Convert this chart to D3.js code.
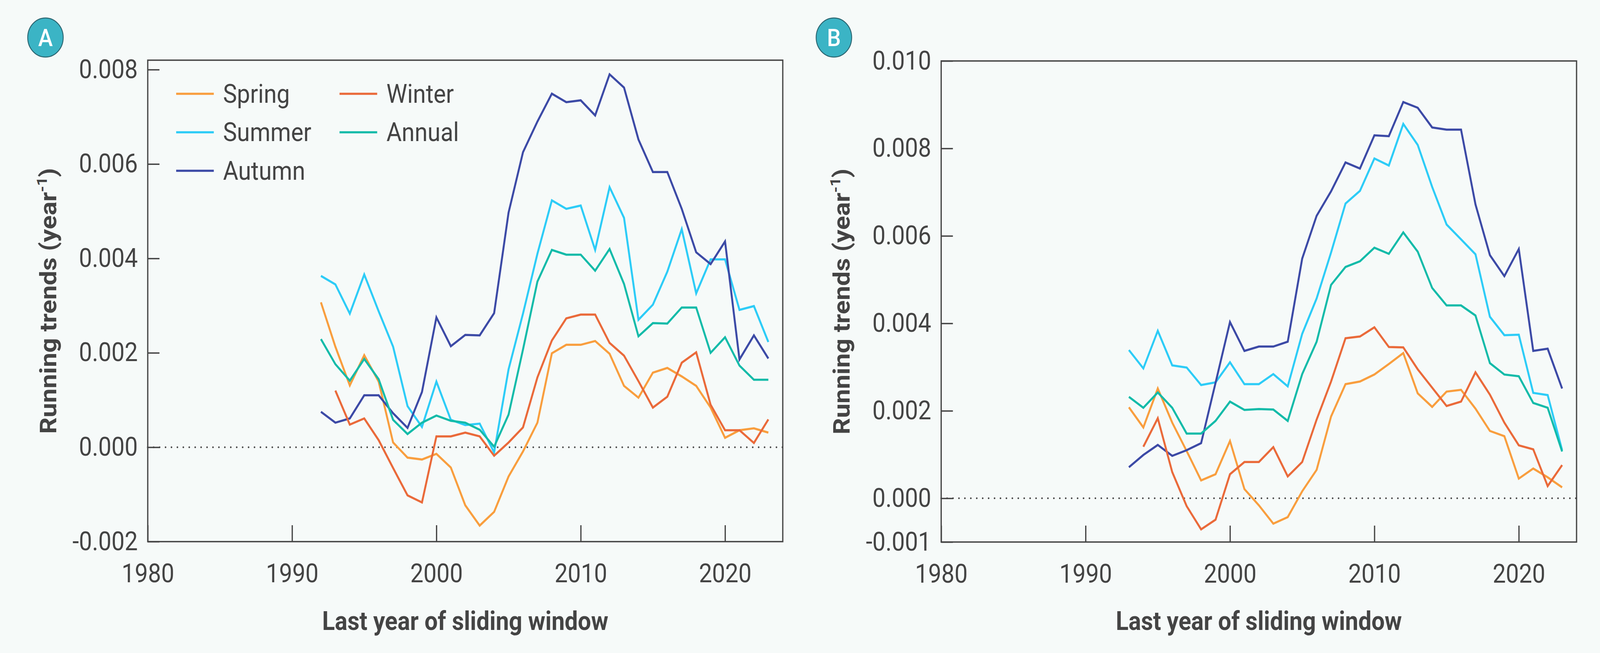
<!DOCTYPE html>
<html>
<head>
<meta charset="utf-8">
<script src="https://cdnjs.cloudflare.com/ajax/libs/d3/7.8.5/d3.min.js"></script>
<style>
  html, body { margin: 0; padding: 0; overflow: hidden; background: #f6faf9; }
  #chart { display: block; width: 100vw; height: 100vh; }
  text { font-family: Roboto, "Noto Sans", sans-serif; fill: #444; }
</style>
</head>
<body>
<svg id="chart" viewBox="0 0 4505 1671" preserveAspectRatio="none"></svg>
<script>
// ---- data ----
const yearsA = [1992, 1993, 1994, 1995, 1996, 1997, 1998, 1999, 2000, 2001, 2002, 2003, 2004, 2005, 2006, 2007,
                2008, 2009, 2010, 2011, 2012, 2013, 2014, 2015, 2016, 2017, 2018, 2019, 2020, 2021, 2022, 2023];
const yearsB = [1993, 1994, 1995, 1996, 1997, 1998, 1999, 2000, 2001, 2002, 2003, 2004, 2005, 2006, 2007,
                2008, 2009, 2010, 2011, 2012, 2013, 2014, 2015, 2016, 2017, 2018, 2019, 2020, 2021, 2022, 2023];

// Panel A (winter starts one year later)
const springA = [0.00307, 0.00213, 0.00131, 0.00195, 0.00139, 0.00010, -0.00022, -0.00026, -0.00014, -0.00043, -0.00123,
                 -0.00166, -0.00137, -0.00062, -0.00009, 0.00052, 0.00199, 0.00217, 0.00217, 0.00225, 0.00198, 0.00130,
                 0.00105, 0.00158, 0.00168, 0.00150, 0.00130, 0.00084, 0.00020, 0.00036, 0.00040, 0.00031];
const summerA = [0.00363, 0.00345, 0.00283, 0.00366, 0.00288, 0.00213, 0.00087, 0.00043, 0.00139, 0.00058, 0.00047,
                 0.00050, -0.00011, 0.00165, 0.00283, 0.00410, 0.00523, 0.00505, 0.00512, 0.00418, 0.00551, 0.00486,
                 0.00270, 0.00302, 0.00372, 0.00462, 0.00326, 0.00398, 0.00398, 0.00291, 0.00299, 0.00223];
const autumnA = [0.00075, 0.00052, 0.00061, 0.00110, 0.00110, 0.00072, 0.00041, 0.00117, 0.00275, 0.00214, 0.00238,
                 0.00237, 0.00284, 0.00497, 0.00625, 0.00690, 0.00749, 0.00731, 0.00735, 0.00703, 0.00790, 0.00762,
                 0.00652, 0.00583, 0.00583, 0.00505, 0.00413, 0.00388, 0.00436, 0.00186, 0.00237, 0.00188];
const winterA = [0.00120, 0.00048, 0.00061, 0.00015, -0.00044, -0.00102, -0.00117, 0.00023, 0.00023, 0.00031,
                 0.00023, -0.00018, 0.00010, 0.00042, 0.00148, 0.00226, 0.00273, 0.00281, 0.00281, 0.00221, 0.00194,
                 0.00140, 0.00084, 0.00107, 0.00179, 0.00201, 0.00090, 0.00036, 0.00036, 0.00009, 0.00059];
const annualA = [0.00229, 0.00176, 0.00141, 0.00187, 0.00144, 0.00058, 0.00028, 0.00052, 0.00067, 0.00056, 0.00052,
                 0.00037, 0.00001, 0.00069, 0.00207, 0.00351, 0.00418, 0.00408, 0.00408, 0.00374, 0.00420, 0.00346,
                 0.00235, 0.00263, 0.00262, 0.00296, 0.00296, 0.00200, 0.00233, 0.00173, 0.00143, 0.00143];

// Panel B (winter starts one year later)
const springB = [0.00208, 0.00162, 0.00251, 0.00173, 0.00108, 0.00041, 0.00055, 0.00131, 0.00021, -0.00016, -0.00058,
                 -0.00043, 0.00016, 0.00065, 0.00187, 0.00261, 0.00267, 0.00283, 0.00307, 0.00332, 0.00240, 0.00209,
                 0.00244, 0.00248, 0.00205, 0.00154, 0.00142, 0.00045, 0.00068, 0.00048, 0.00025];
const summerB = [0.00339, 0.00297, 0.00383, 0.00304, 0.00299, 0.00259, 0.00265, 0.00311, 0.00261, 0.00261, 0.00284,
                 0.00256, 0.00376, 0.00457, 0.00562, 0.00674, 0.00703, 0.00777, 0.00761, 0.00856, 0.00808, 0.00712,
                 0.00626, 0.00592, 0.00558, 0.00415, 0.00373, 0.00374, 0.00241, 0.00236, 0.00110];
const autumnB = [0.00071, 0.00099, 0.00122, 0.00097, 0.00110, 0.00126, 0.00264, 0.00403, 0.00337, 0.00347, 0.00347,
                 0.00358, 0.00548, 0.00646, 0.00702, 0.00768, 0.00754, 0.00830, 0.00828, 0.00906, 0.00893, 0.00848,
                 0.00843, 0.00843, 0.00672, 0.00556, 0.00508, 0.00570, 0.00337, 0.00342, 0.00251];
const winterB = [0.00118, 0.00183, 0.00060, -0.00018, -0.00071, -0.00049, 0.00055, 0.00083, 0.00083, 0.00117,
                 0.00050, 0.00083, 0.00180, 0.00267, 0.00366, 0.00370, 0.00391, 0.00346, 0.00345, 0.00295, 0.00253,
                 0.00211, 0.00221, 0.00288, 0.00237, 0.00173, 0.00121, 0.00112, 0.00028, 0.00076];
const annualB = [0.00232, 0.00207, 0.00242, 0.00207, 0.00148, 0.00148, 0.00177, 0.00221, 0.00202, 0.00204, 0.00203,
                 0.00177, 0.00284, 0.00358, 0.00488, 0.00529, 0.00542, 0.00573, 0.00559, 0.00608, 0.00564, 0.00481,
                 0.00441, 0.00441, 0.00418, 0.00309, 0.00283, 0.00279, 0.00218, 0.00207, 0.00107];

// Axis ticks
const xTicks = [1980, 1990, 2000, 2010, 2020];
const yTicksA = [-0.002, 0, 0.002, 0.004, 0.006, 0.008];
const yLabelsA = ["-0.002", "0.000", "0.002", "0.004", "0.006", "0.008"];
const yTicksB = [-0.001, 0, 0.002, 0.004, 0.006, 0.008, 0.010];
const yLabelsB = ["-0.001", "0.000", "0.002", "0.004", "0.006", "0.008", "0.010"];

const colors = {
    Spring: "#f99e3e",
    Summer: "#2dccf7",
    Autumn: "#3c4aa6",
    Winter: "#ea6a3a",
    Annual: "#13bba9"
};

// ---- drawing ----
const svg = d3.select("#chart");
const fontSize = 66;
const ink = "#444";

function drawPanel(opts) {
    const { left, right, top, bottom, yDomain, yTicks, yLabels, series, badge, legend } = opts;

    const x = d3.scaleLinear().domain([1980, 2024]).range([left, right]);
    const y = d3.scaleLinear().domain(yDomain).range([bottom, top]);

    const g = svg.append("g");

    // Zero reference line (dotted)
    g.append("line")
        .attr("x1", left).attr("x2", right)
        .attr("y1", y(0)).attr("y2", y(0))
        .attr("stroke", ink)
        .attr("stroke-width", 4.5)
        .attr("stroke-linecap", "round")
        .attr("stroke-dasharray", "0 16.7");

    // X axis, ticks pointing inward
    const xAxis = g.append("g")
        .attr("transform", `translate(0,${bottom})`)
        .call(d3.axisBottom(x).tickValues(xTicks).tickFormat(d3.format("d"))
            .tickSize(-42).tickSizeOuter(0).tickPadding(57));
    xAxis.select(".domain").remove();
    xAxis.selectAll("line").attr("stroke", ink).attr("stroke-width", 3.5);
    xAxis.selectAll("text").attr("font-size", fontSize).attr("fill", ink)
        .style("font-family", "Roboto, sans-serif");

    // Y axis, ticks pointing inward
    const yAxis = g.append("g")
        .attr("transform", `translate(${left},0)`)
        .call(d3.axisLeft(y).tickValues(yTicks).tickFormat((d, i) => yLabels[i])
            .tickSize(-33).tickSizeOuter(0).tickPadding(28));
    yAxis.select(".domain").remove();
    yAxis.selectAll("line").attr("stroke", ink).attr("stroke-width", 3.5);
    yAxis.selectAll("text").attr("font-size", fontSize).attr("fill", ink)
        .style("font-family", "Roboto, sans-serif");

    // Lines
    const line = d3.line()
        .x(d => x(d.year))
        .y(d => y(d.value));

    series.forEach(s => {
        const pts = s.values.map((v, i) => ({ year: s.years[i], value: v }));
        g.append("path")
            .datum(pts)
            .attr("fill", "none")
            .attr("stroke", colors[s.name])
            .attr("stroke-width", 5.5)
            .attr("d", line);
    });

    // Frame
    g.append("rect")
        .attr("x", left).attr("y", top)
        .attr("width", right - left).attr("height", bottom - top)
        .attr("fill", "none")
        .attr("stroke", ink)
        .attr("stroke-width", 3.5);

    // Axis titles
    g.append("text")
        .attr("x", (left + right) / 2)
        .attr("y", 1612)
        .attr("text-anchor", "middle")
        .attr("font-size", fontSize)
        .attr("font-weight", 700)
        .text("Last year of sliding window");

    const yt = g.append("text")
        .attr("transform", `translate(${left - 258},${(top + bottom) / 2}) rotate(-90)`)
        .attr("text-anchor", "middle")
        .attr("font-size", fontSize)
        .attr("font-weight", 700);
    yt.append("tspan").text("Running trends (year");
    yt.append("tspan").attr("font-size", 40).attr("dy", -26).text("-1");
    yt.append("tspan").attr("dy", 26).text(")");

    // Panel badge
    g.append("circle")
        .attr("cx", badge.x).attr("cy", badge.y).attr("r", 50)
        .attr("fill", "#3bb4c5")
        .attr("stroke", "#2b6570")
        .attr("stroke-width", 2.5);
    g.append("text")
        .attr("x", badge.x).attr("y", badge.y + 22)
        .attr("text-anchor", "middle")
        .attr("font-size", 62)
        .attr("font-weight", 500)
        .style("fill", "#fff")
        .text(badge.label);

    // Legend
    if (legend) {
        const lg = g.append("g").attr("transform", `translate(${left},${top})`);
        legend.forEach(item => {
            const cx = item.col === 0 ? 80 : 540;
            const cy = 86 + item.row * 98.5;
            lg.append("line")
                .attr("x1", cx).attr("x2", cx + 106)
                .attr("y1", cy).attr("y2", cy)
                .attr("stroke", colors[item.name])
                .attr("stroke-width", 5.5);
            lg.append("text")
                .attr("x", cx + 132)
                .attr("y", cy + 23)
                .attr("font-size", fontSize)
                .text(item.name);
        });
    }
}

drawPanel({
    left: 416, right: 2204, top: 154, bottom: 1386,
    yDomain: [-0.002, 0.0082],
    yTicks: yTicksA, yLabels: yLabelsA,
    series: [
        { name: "Spring", years: yearsA, values: springA },
        { name: "Summer", years: yearsA, values: summerA },
        { name: "Autumn", years: yearsA, values: autumnA },
        { name: "Winter", years: yearsA.slice(1), values: winterA },
        { name: "Annual", years: yearsA, values: annualA }
    ],
    badge: { x: 128, y: 96, label: "A" },
    legend: [
        { name: "Spring", col: 0, row: 0 },
        { name: "Summer", col: 0, row: 1 },
        { name: "Autumn", col: 0, row: 2 },
        { name: "Winter", col: 1, row: 0 },
        { name: "Annual", col: 1, row: 1 }
    ]
});

drawPanel({
    left: 2650, right: 4439, top: 156, bottom: 1387,
    yDomain: [-0.001, 0.010],
    yTicks: yTicksB, yLabels: yLabelsB,
    series: [
        { name: "Spring", years: yearsB, values: springB },
        { name: "Summer", years: yearsB, values: summerB },
        { name: "Autumn", years: yearsB, values: autumnB },
        { name: "Winter", years: yearsB.slice(1), values: winterB },
        { name: "Annual", years: yearsB, values: annualB }
    ],
    badge: { x: 2348, y: 96, label: "B" },
    legend: null
});
</script>
</body>
</html>
